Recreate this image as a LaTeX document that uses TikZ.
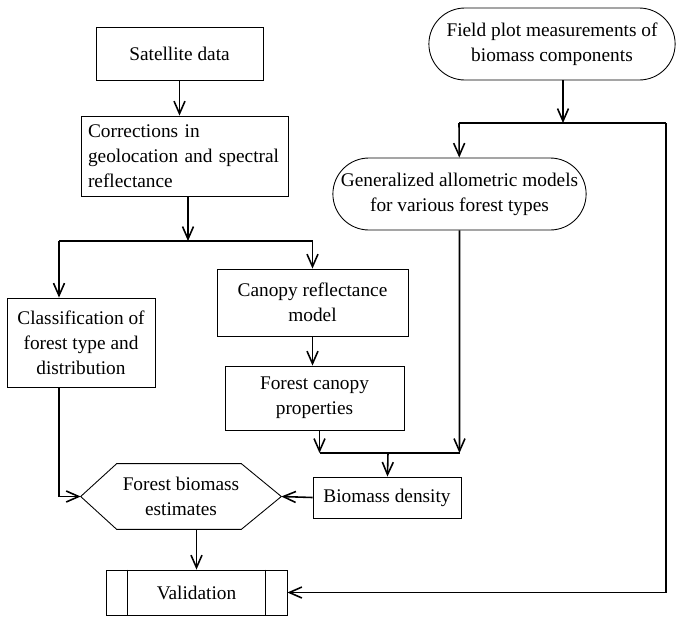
\documentclass[tikz,border=0pt]{standalone}
\usepackage{fontspec}
\setmainfont{Liberation Serif}
\usetikzlibrary{positioning, arrows.meta, shapes.misc}

\begin{document}
\begin{tikzpicture}[x=0.02cm, y=-0.02cm,
    box/.style={rectangle, draw, line width=0.5pt, align=center, inner sep=0.14cm,
                font=\fontsize{11}{14.2}\selectfont},
    pill/.style={rounded rectangle, draw, line width=0.5pt, align=center,
                 font=\fontsize{11}{14.2}\selectfont},
    hexbox/.style={rectangle, align=center, minimum width=4cm, minimum height=1.3cm,
                   font=\fontsize{11}{14.2}\selectfont},
    arr/.style={-{Straight Barb[length=2.5mm, width=2.2mm]}, line width=0.9pt},
    link/.style={line width=0.9pt}
]
    \useasboundingbox (0,0) rectangle (682,616);

    % left column
    \node[box, minimum width=3.34cm, minimum height=1.06cm] (sat) at (179.5,53.5) {Satellite data};
    \node[box, minimum width=4.14cm, minimum height=1.6cm, text width=3.86cm, align=left] (corr) at (184.5,156)
          {Corrections in\\geolocation and spectral\\reflectance};
    \node[box, minimum width=2.96cm, minimum height=1.78cm] (cls) at (81,342.5)
          {Classification of\\forest type and\\distribution};
    \node[box, minimum width=3.82cm, minimum height=1.34cm] (canopy) at (312.5,302.5)
          {Canopy reflectance\\model};
    \node[box, minimum width=3.58cm, minimum height=1.28cm] (fcp) at (314.5,398)
          {Forest canopy\\properties};
    \node[box, minimum width=2.96cm, minimum height=0.82cm] (bd) at (387,497.5) {Biomass density};
    \node[hexbox] (hex) at (181,496.5) {Forest biomass\\estimates};
    \node[box, minimum width=3.62cm, minimum height=0.9cm] (val) at (196.5,592.5) {Validation};

    % right column
    \node[pill, minimum width=5.16cm, minimum height=1.44cm] (fp) at (552,44)
          {Field plot measurements of\\biomass components};
    \node[pill, minimum width=5.3cm, minimum height=1.44cm] (gam) at (459.5,194)
          {Generalized allometric models\\for various forest types};

    % hexagon and validation outlines
    \draw[line width=0.5pt] (hex.west) -- ([xshift=0.72cm]hex.north west) -- ([xshift=-0.8cm]hex.north east)
        -- (hex.east) -- ([xshift=-0.8cm]hex.south east) -- ([xshift=0.72cm]hex.south west) -- cycle;
    \draw[line width=0.5pt] ([xshift=0.44cm]val.north west) -- ([xshift=0.44cm]val.south west);
    \draw[line width=0.5pt] ([xshift=-0.44cm]val.north east) -- ([xshift=-0.44cm]val.south east);

    % junctions
    \coordinate (js) at (188,241);
    \coordinate (jl) at (59,241);
    \coordinate (jt) at (563,123);
    \coordinate (jg) at (459,123);
    \coordinate (jr) at (666,123);
    \coordinate (jm) at (388,453);

    \draw[arr] (sat) -- (sat |- corr.north);
    \draw[arr] (corr.south -| js) -- (js);
    \draw[link] (jl) -- (js -| canopy);
    \draw[arr] (jl) -- (jl |- cls.north);
    \draw[arr] (js -| canopy) -- (canopy);
    \draw[arr] (canopy) -- (canopy |- fcp.north);
    \draw[arr] (cls.south -| jl) |- (hex.west);

    \draw[arr] (fp.south -| jt) -- (jt);
    \draw[link] (jg) -- (jr);
    \draw[arr] (jg) -- (gam);
    \draw[arr] (gam) -- (gam |- jm);
    \draw[arr] ([xshift=0.1cm]fcp.south) -- ([xshift=0.1cm]fcp.south |- jm);
    \draw[link] ([xshift=0.1cm]fcp.south |- jm) -- (gam |- jm);
    \draw[arr] (jm) -- (bd);
    \draw[arr] (bd.west) -- (hex.east);
    \draw[arr] (hex.south -| val) -- (val);
    \draw[arr] (jr) |- (val.east);
\end{tikzpicture}
\end{document}
